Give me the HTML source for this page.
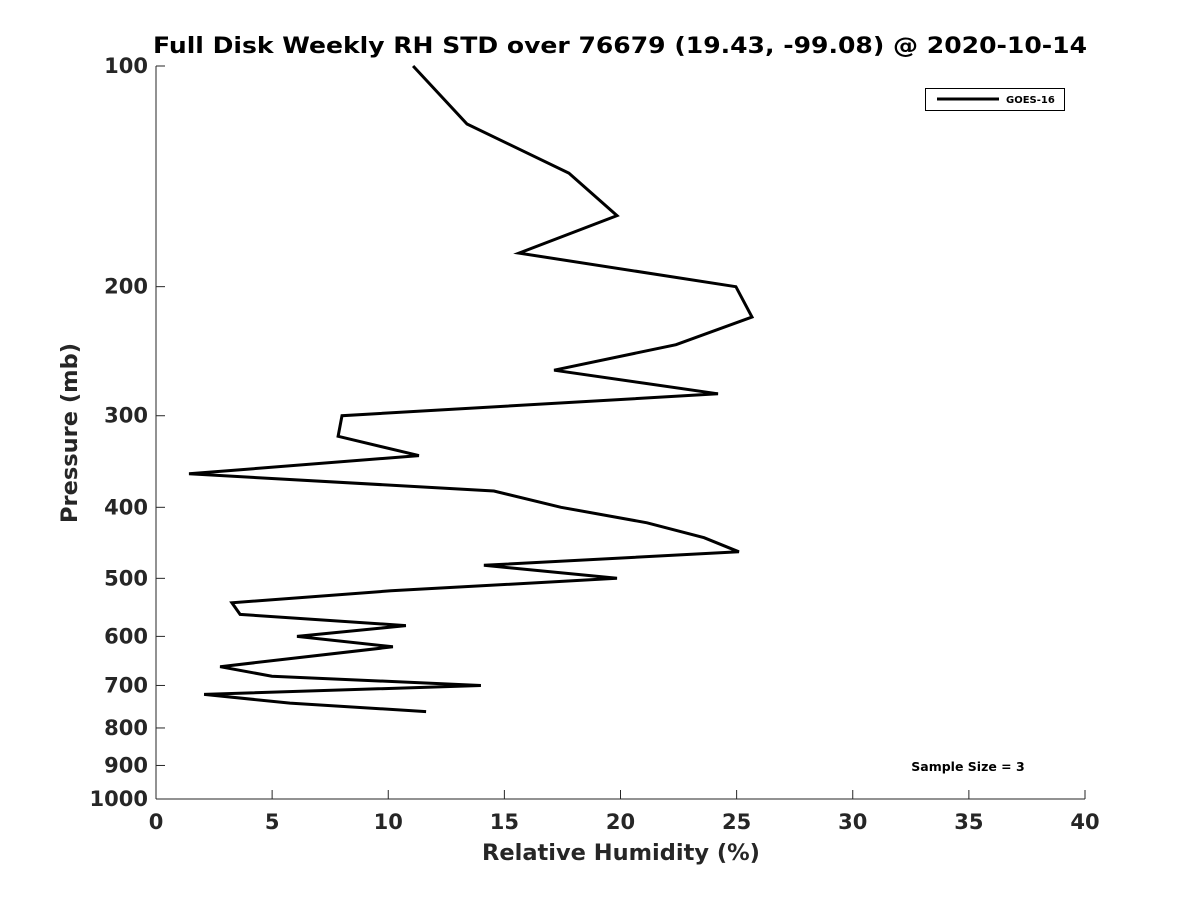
<!DOCTYPE html>
<html><head><meta charset="utf-8"><style>
html,body{margin:0;padding:0;background:#fff;}
svg{display:block;font-family:"DejaVu Sans","Liberation Sans",sans-serif;}
</style></head><body>
<svg id="chart" width="1200" height="900" viewBox="0 0 1200 900">
<text x="620" y="53" text-anchor="middle" font-size="22" font-weight="bold" fill="#000" textLength="934" lengthAdjust="spacingAndGlyphs">Full Disk Weekly RH STD over 76679 (19.43, -99.08) @ 2020-10-14</text>
<g id="axes"></g>
<g id="series"></g>
<text x="621" y="860" text-anchor="middle" font-size="22.5" font-weight="bold" fill="#262626">Relative Humidity (%)</text>
<text transform="translate(77,433) rotate(-90)" text-anchor="middle" font-size="22.5" font-weight="bold" fill="#262626">Pressure (mb)</text>
<g>
<rect x="925.5" y="88.5" width="139" height="22" fill="#fff" stroke="#000" stroke-width="1"/>
<line x1="937" y1="99" x2="999" y2="99" stroke="#000" stroke-width="3"/>
<text x="1006" y="103" font-size="10" font-weight="bold">GOES-16</text>
</g>
<text x="968" y="771" text-anchor="middle" font-size="12.5" font-weight="bold">Sample Size = 3</text>
</svg>
<script>
const pressure = [100,120,140,160,180,200,220,240,260,280,300,320,340,360,380,400,420,440,460,480,500,520,540,560,580,600,620,660,680,700,720,740,760];
const rh = [11.07,13.39,17.78,19.85,15.63,24.97,25.66,22.39,17.14,24.2,8.01,7.84,11.32,1.42,14.55,17.44,21.14,23.6,25.1,14.12,19.85,10.12,3.27,3.62,10.76,6.07,10.2,2.76,4.99,13.99,2.07,5.77,11.63];
const xTicks = [0,5,10,15,20,25,30,35,40];
const yTicks = [100,200,300,400,500,600,700,800,900,1000];
const X0=156, X1=1085, Y0=66, Y1=799;
function xs(v){return X0+(v-0)/40*(X1-X0);}
function ys(p){return Y0+(Math.log10(p)-2)*(Y1-Y0);}
const NS="http://www.w3.org/2000/svg";
const axes=document.getElementById('axes');
function mk(t,a,parent){const e=document.createElementNS(NS,t);for(const k in a)e.setAttribute(k,a[k]);parent.appendChild(e);return e;}
const la=mk('line',{x1:X0,y1:Y0,x2:X0,y2:Y1,stroke:'#262626','stroke-width':1},axes);


const lb=mk('line',{x1:X0,y1:Y1,x2:X1,y2:Y1,stroke:'#262626','stroke-width':1},axes);


xTicks.forEach(v=>{
  const x=xs(v);
  const tk=mk('line',{x1:x,y1:Y1,x2:x,y2:Y1-9,stroke:'#262626'},axes);
  
  
  const t=mk('text',{x:x,y:829,'text-anchor':'middle','font-size':21,'font-weight':'bold',fill:'#262626'},axes);
  t.textContent=v;
  
  
});
yTicks.forEach(v=>{
  const y=ys(v);
  const tk=mk('line',{x1:X0,y1:y,x2:X0+9,y2:y,stroke:'#262626'},axes);
  
  
  const t=mk('text',{x:148,y:y+7,'text-anchor':'end','font-size':21,'font-weight':'bold',fill:'#262626'},axes);
  t.textContent=v;
  
  
});
const pts=pressure.map((p,i)=>xs(rh[i]).toFixed(1)+','+ys(p).toFixed(1)).join(' ');
const pl=mk('polyline',{points:pts,fill:'none',stroke:'#000','stroke-width':3,'stroke-linejoin':'miter'},document.getElementById('series'));


</script>
</body></html>
